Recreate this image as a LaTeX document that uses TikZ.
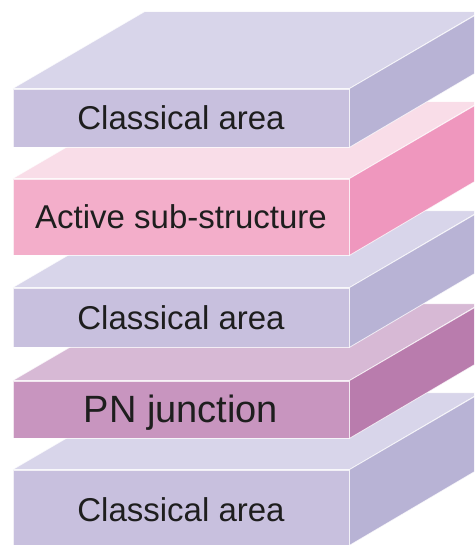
\documentclass[tikz,border=0pt]{standalone}
\usepackage{fontspec}
\setmainfont{Liberation Sans}
\definecolor{clTop}{HTML}{D8D5EA}
\definecolor{clFront}{HTML}{C8C0DE}
\definecolor{clSide}{HTML}{B8B3D5}
\definecolor{pkTop}{HTML}{F9DDE8}
\definecolor{pkFront}{HTML}{F3AECA}
\definecolor{pkSide}{HTML}{EF97BE}
\definecolor{pnTop}{HTML}{D7B9D5}
\definecolor{pnFront}{HTML}{C895BF}
\definecolor{pnSide}{HTML}{B97CAD}
\definecolor{txt}{HTML}{1E1E1E}
\tikzset{
  edge/.style={draw=white, draw opacity=0.75, line width=0.8pt, line join=miter},
  front/.style={edge, rectangle, inner sep=0pt, minimum width=336pt,
    text=txt, text depth=0pt, font=\fontsize{33}{33}\selectfont},
  bigfont/.style={font=\fontsize{38}{38}\selectfont},
}
\newcommand\slabfaces[4]{% name, height, top colour, side colour
  \path[edge, fill=#3] (#1.north west) -- ++(132,-77) -- ++(336,0) -- (#1.north east) -- cycle;
  \path[edge, fill=#4] (#1.north east) -- ++(132,-77) -- ++(0,#2) -- (#1.south east) -- cycle;
}
\begin{document}
\begin{tikzpicture}[x=1pt, y=-1pt]
\useasboundingbox (0,0) rectangle (474,545);
\clip (0,0) rectangle (474,545);
% slab 5 (bottom)
\node[front, fill=clFront, minimum height=75pt] (s5) at (181,507.5) {\raisebox{-4pt}{Classical area}};
\slabfaces{s5}{75}{clTop}{clSide}
% slab 4
\node[front, bigfont, fill=pnFront, minimum height=57pt] (s4) at (181,409.5) {\raisebox{2pt}{PN junction}};
\slabfaces{s4}{57}{pnTop}{pnSide}
% slab 3
\node[front, fill=clFront, minimum height=59pt] (s3) at (181,317.5) {Classical area};
\slabfaces{s3}{59}{clTop}{clSide}
% slab 2
\node[front, fill=pkFront, minimum height=76pt] (s2) at (181,217) {Active sub-structure};
\slabfaces{s2}{76}{pkTop}{pkSide}
% slab 1 (top)
\node[front, fill=clFront, minimum height=58pt] (s1) at (181,118) {Classical area};
\slabfaces{s1}{58}{clTop}{clSide}
\end{tikzpicture}
\end{document}
